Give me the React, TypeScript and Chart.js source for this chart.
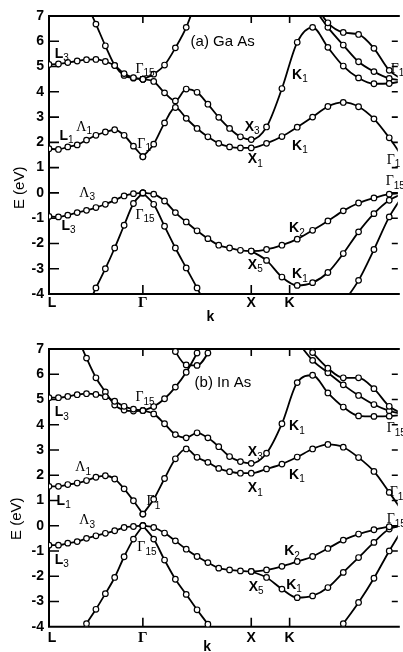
import React, { useEffect, useRef } from "react";
import { Chart, registerables } from "chart.js";
Chart.register(...registerables);

const n = null;
const SANS = '"Liberation Sans", "DejaVu Sans", sans-serif';
const SERIF = '"Liberation Serif", "DejaVu Serif", serif';

// k positions of the calculated points (units of 2pi/a): L -> Gamma, Gamma -> X -> K -> Gamma
const kLeft = [0, 0.087, 0.173, 0.26, 0.346, 0.433, 0.52, 0.606, 0.693, 0.779, 0.866];
const kRight = [0.866, 0.966, 1.066, 1.166, 1.266, 1.366, 1.466, 1.566, 1.666, 1.766, 1.866,
  2.007, 2.149, 2.29, 2.432, 2.573, 2.715, 2.856, 2.998, 3.139, 3.281];
const symK = [0, 0.866, 1.866, 2.22];
const symLabels = ["L", "Γ", "X", "K"];
const eTicks = [7, 6, 5, 4, 3, 2, 1, 0, -1, -2, -3, -4];
const K_MAX = 3.218;

// ---------- (a) GaAs ----------
const gaL_L3 = [5.08, 5.1, 5.16, 5.22, 5.27, 5.28, 5.2, 5.04, 4.72, 4.56, 4.5];
const gaL_steep = [n, n, n, n, 7.5, 6.68, 5.82, 5.05, 4.65, 4.54, 4.5];
const gaL_L1 = [1.75, 1.72, 1.82, 1.9, 2.09, 2.28, 2.41, 2.5, 2.28, 1.85, 1.43];
const gaL_V3 = [-0.93, -0.95, -0.88, -0.78, -0.69, -0.58, -0.45, -0.29, -0.12, -0.03, 0];
const gaL_Vsteep = [n, n, n, n, -4.6, -3.76, -3.0, -2.18, -1.28, -0.42, 0];

const gaR_up = [4.5, 4.7, 5.06, 5.74, 6.55, 7.7, n, n, n, n, n, n, n, n, n, n, n, n, n, n, n];
const gaR_low = [4.5, 4.41, 3.96, 3.64, 4.11, 3.98, 3.51, 2.99, 2.55, 2.22, 2.11,
  2.61, 4.13, 5.96, 6.55, 5.76, 5.02, 4.55, 4.32, 4.33, 4.45];
const gaR_G1 = [1.43, 1.93, 2.77, 3.38, 2.95, 2.55, 2.22, 1.96, 1.82, 1.78, 1.78,
  1.96, 2.23, 2.6, 3.0, 3.42, 3.58, 3.41, 2.93, 2.18, 1.3];
const gaR_V = [0, -0.05, -0.32, -0.78, -1.15, -1.5, -1.81, -2.07, -2.18, -2.27, -2.3,
  -2.24, -2.07, -1.83, -1.48, -1.11, -0.71, -0.4, -0.2, -0.05, 0];
const gaR_VK1 = [n, n, n, n, n, n, n, n, n, n, -2.3,
  -2.67, -3.33, -3.66, -3.55, -3.15, -2.4, -1.54, -0.82, -0.29, 0];
const gaR_Vsteep = [0, -0.45, -1.32, -2.18, -2.97, -3.76, -4.6, n, n, n, n, n, n, n, n, n, n, n, n, n, n];
const gaR_Vedge = [n, n, n, n, n, n, n, n, n, n, n, n, n, n, n, n, -4.35, -3.46, -2.24, -0.95, 0];
const gaR_U1 = [n, n, n, n, n, n, n, n, n, n, n, n, n, n, 7.6, 6.73, 6.35, 6.27, 5.72, 4.85, 4.45];
const gaR_U2 = [n, n, n, n, n, n, n, n, n, n, n, n, n, n, 7.4, 6.55, 5.85, 5.19, 4.8, 4.53, 4.45];

// labels: [main, subscript, k, E]
const gaLabels: [string, string, number, number][] = [
  ["L", "3", 0.052, 5.5], ["Γ", "15", 0.797, 4.9], ["K", "1", 2.243, 4.66], ["Γ", "15", 3.152, 4.9],
  ["Λ", "1", 0.252, 2.6], ["L", "1", 0.097, 2.25], ["Γ", "1", 0.815, 1.93], ["X", "3", 1.806, 2.6],
  ["X", "1", 1.834, 1.33], ["K", "1", 2.243, 1.85], ["Γ", "1", 3.115, 1.3], ["Γ", "15", 3.106, 0.46],
  ["Λ", "3", 0.279, 0.0], ["L", "3", 0.115, -1.32], ["Γ", "15", 0.797, -0.88], ["K", "2", 2.215, -1.4],
  ["X", "5", 1.834, -2.86], ["K", "1", 2.243, -3.22],
];

// ---------- (b) InAs ----------
const inL_L3 = [5.07, 5.07, 5.12, 5.19, 5.23, 5.2, 5.11, 4.93, 4.73, 4.62, 4.56];
const inL_steep = [n, n, n, 7.5, 6.64, 5.86, 5.3, 4.78, 4.58, 4.54, 4.56];
const inL_L1 = [1.56, 1.56, 1.63, 1.69, 1.79, 1.92, 1.98, 1.85, 1.46, 0.99, 0.46];
const inL_V3 = [-0.77, -0.77, -0.69, -0.63, -0.5, -0.4, -0.3, -0.2, -0.07, -0.03, 0];
const inL_Vsteep = [n, n, n, -4.5, -3.88, -3.31, -2.69, -2.05, -1.23, -0.53, 0];

const inR_up = [4.56, 4.72, 5.03, 5.49, 6.08, 6.84, 7.7, n, n, n, n, n, n, n, n, n, n, n, n, n, n];
const inR_U = [n, n, 7.8, 6.9, 6.37, 6.35, 6.84, 7.8, n, n, n, n, n, n, n, n, n, n, n, n, n];
const inR_low = [4.56, 4.43, 4.04, 3.61, 3.48, 3.68, 3.48, 3.13, 2.74, 2.54, 2.47,
  2.87, 4.04, 5.67, 5.96, 5.26, 4.7, 4.35, 4.33, 4.34, 4.4];
const inR_G1 = [0.46, 1.05, 1.87, 2.65, 3.04, 2.71, 2.51, 2.27, 2.14, 2.08, 2.08,
  2.25, 2.44, 2.72, 3.04, 3.22, 3.11, 2.7, 2.15, 1.32, 0.45];
const inR_V = [0, -0.07, -0.29, -0.6, -0.93, -1.22, -1.46, -1.68, -1.75, -1.79, -1.81,
  -1.75, -1.61, -1.42, -1.22, -0.9, -0.57, -0.33, -0.16, -0.04, 0];
const inR_VK1 = [n, n, n, n, n, n, n, n, n, n, -1.81,
  -2.05, -2.51, -2.85, -2.78, -2.45, -1.85, -1.26, -0.66, -0.13, 0];
const inR_Vsteep = [0, -0.53, -1.36, -2.12, -2.72, -3.33, -3.9, -4.5, n, n, n, n, n, n, n, n, n, n, n, n, n];
const inR_Vedge = [n, n, n, n, n, n, n, n, n, n, n, n, n, n, n, -4.7, -3.88, -3.04, -2.08, -1.0, 0];
const inR_U1 = [n, n, n, n, n, n, n, n, n, n, n, n, n, 7.6, 6.86, 6.24, 5.86, 5.86, 5.43, 4.73, 4.4];
const inR_U2 = [n, n, n, n, n, n, n, n, n, n, n, n, n, 7.3, 6.55, 6.06, 5.58, 5.16, 4.8, 4.55, 4.4];

const inLabels: [string, string, number, number][] = [
  ["Γ", "15", 0.797, 5.08], ["L", "3", 0.052, 4.48], ["K", "1", 2.215, 3.93], ["Γ", "15", 3.115, 3.85],
  ["X", "3", 1.834, 2.9], ["Λ", "1", 0.243, 2.3], ["K", "1", 2.215, 2.02], ["X", "1", 1.834, 1.47],
  ["L", "1", 0.07, 0.99], ["Γ", "1", 0.9, 0.95], ["Γ", "1", 3.143, 1.31], ["Λ", "3", 0.279, 0.2],
  ["Γ", "15", 3.115, 0.24], ["Γ", "15", 0.815, -0.87], ["L", "3", 0.052, -1.35], ["K", "2", 2.17, -1.02],
  ["X", "5", 1.843, -2.42], ["K", "1", 2.188, -2.34],
];

const series = (ks: number[], es: (number | null)[]) =>
  ks.map((k, i) => ({ x: k, y: es[i] })).filter((p) => p.y !== null);

type Panel = {
  title: string; titleK: number; titleE: number;
  left: (number | null)[][]; right: (number | null)[][];
  labels: [string, string, number, number][];
  top: number; height: number; padTop: number; padBottom: number;
  symDy: number; kDy: number; kK: number; eTitleE: number; eTitleX: number;
};

const panels: Panel[] = [
  {
    title: "(a) Ga As", titleK: 1.306, titleE: 5.97,
    left: [gaL_L3, gaL_steep, gaL_L1, gaL_V3, gaL_Vsteep],
    right: [gaR_up, gaR_low, gaR_G1, gaR_V, gaR_VK1, gaR_Vsteep, gaR_Vedge, gaR_U1, gaR_U2],
    labels: gaLabels, top: 0, height: 326, padTop: 16, padBottom: 32,
    symDy: 9, kDy: 23, kK: 1.488, eTitleE: 0.2, eTitleX: 20,
  },
  {
    title: "(b) In As", titleK: 1.343, titleE: 5.67,
    left: [inL_L3, inL_steep, inL_L1, inL_V3, inL_Vsteep],
    right: [inR_up, inR_U, inR_low, inR_G1, inR_V, inR_VK1, inR_Vsteep, inR_Vedge, inR_U1, inR_U2],
    labels: inLabels, top: 326, height: 326, padTop: 23, padBottom: 25.3,
    symDy: 11, kDy: 20, kK: 1.46, eTitleE: 0.28, eTitleX: 17,
  },
];

function drawLabel(ctx: CanvasRenderingContext2D, x: number, y: number, main: string, sub: string, size: number) {
  const greek = /[ΓΛ]/.test(main);
  ctx.font = `${greek ? "" : "bold "}${size}px ${greek ? SERIF : SANS}`;
  ctx.textAlign = "left";
  ctx.textBaseline = "middle";
  ctx.fillText(main, x, y);
  const w = ctx.measureText(main).width;
  if (sub) {
    ctx.font = `${Math.round(size * 0.72)}px ${SANS}`;
    ctx.fillText(sub, x + w, y + size * 0.32);
  }
}

function PanelChart({ p }: { p: Panel }) {
  const ref = useRef<HTMLCanvasElement>(null);
  useEffect(() => {
    const canvas = ref.current!;
    const datasets: any[] = [];
    p.left.forEach((es) => datasets.push({ data: series(kLeft, es) }));
    p.right.forEach((es) => datasets.push({ data: series(kRight, es) }));

    const frame = {
      id: "frame",
      beforeDatasetsDraw(chart: any) {
        const { ctx, chartArea: a, scales } = chart;
        const xs = scales.x, ys = scales.y;
        ctx.save();
        ctx.strokeStyle = "#000";
        ctx.lineWidth = 2;
        ctx.beginPath();
        ctx.moveTo(a.right + 2, a.top);
        ctx.lineTo(a.left, a.top);
        ctx.lineTo(a.left, a.bottom);
        ctx.lineTo(a.right + 2, a.bottom);
        ctx.stroke();
        ctx.lineWidth = 1.6;
        ctx.beginPath();
        eTicks.forEach((e) => {
          const y = ys.getPixelForValue(e);
          if (e < 7 && e > -4) {
            ctx.moveTo(a.left, y); ctx.lineTo(a.left + 10, y);
            ctx.moveTo(a.right - 6, y); ctx.lineTo(a.right, y);
          }
        });
        symK.forEach((k, i) => {
          if (i === 0) return;
          const x = xs.getPixelForValue(k);
          ctx.moveTo(x, a.bottom); ctx.lineTo(x, a.bottom - 9);
          ctx.moveTo(x, a.top); ctx.lineTo(x, a.top + 7);
        });
        ctx.stroke();
        // tick labels
        ctx.fillStyle = "#000";
        ctx.font = `bold 14px ${SANS}`;
        ctx.textAlign = "right";
        ctx.textBaseline = "middle";
        eTicks.forEach((e) => {
          ctx.fillText(e < 0 ? "-" + Math.abs(e) : String(e), a.left - 5, ys.getPixelForValue(e));
        });
        ctx.textAlign = "center";
        symLabels.forEach((s, i) => {
          const greek = s === "Γ";
          ctx.font = greek ? `bold 15px ${SERIF}` : `bold 14px ${SANS}`;
          ctx.fillText(s, xs.getPixelForValue(symK[i]) + (i === 0 ? 3 : 0), a.bottom + p.symDy);
        });
        ctx.font = `bold 14px ${SANS}`;
        ctx.fillText("k", xs.getPixelForValue(p.kK), a.bottom + p.kDy);
        // axis title
        ctx.save();
        ctx.translate(p.eTitleX, ys.getPixelForValue(p.eTitleE));
        ctx.rotate(-Math.PI / 2);
        ctx.font = `15px ${SANS}`;
        ctx.fillText("E (eV)", 0, 0);
        ctx.restore();
        ctx.restore();
      },
      afterDatasetsDraw(chart: any) {
        const { ctx, scales } = chart;
        const xs = scales.x, ys = scales.y;
        ctx.save();
        ctx.fillStyle = "#000";
        p.labels.forEach(([m, s, k, e]) => {
          drawLabel(ctx, xs.getPixelForValue(k), ys.getPixelForValue(e), m, s, 14);
        });
        ctx.font = `15px ${SANS}`;
        ctx.textAlign = "left";
        ctx.textBaseline = "middle";
        ctx.fillText(p.title, xs.getPixelForValue(p.titleK), ys.getPixelForValue(p.titleE));
        ctx.restore();
      },
    };

    const chart = new Chart(canvas, {
      type: "line",
      data: { datasets },
      options: {
        responsive: false,
        animation: false,
        events: [],
        layout: { padding: { left: 49, right: 0, top: p.padTop, bottom: p.padBottom } },
        plugins: { legend: { display: false }, tooltip: { enabled: false } },
        scales: {
          x: { type: "linear", min: 0, max: K_MAX, display: false },
          y: { type: "linear", min: -4, max: 7, display: false },
        },
        elements: {
          line: { borderColor: "#000", borderWidth: 1.8, cubicInterpolationMode: "monotone", fill: false },
          point: { radius: 2.8, backgroundColor: "#fff", borderColor: "#000", borderWidth: 1.2 },
        },
      } as any,
      plugins: [frame],
    });
    return () => chart.destroy();
  }, [p]);
  return (
    <canvas
      ref={ref}
      width={403}
      height={p.height}
      style={{ position: "absolute", left: 0, top: p.top, width: 403, height: p.height }}
    />
  );
}

export default function App() {
  return (
    <div style={{ position: "absolute", left: 0, top: 0, width: 403, height: 652, background: "#fff", overflow: "hidden" }}>
      {panels.map((p, i) => (
        <PanelChart key={i} p={p} />
      ))}
    </div>
  );
}
